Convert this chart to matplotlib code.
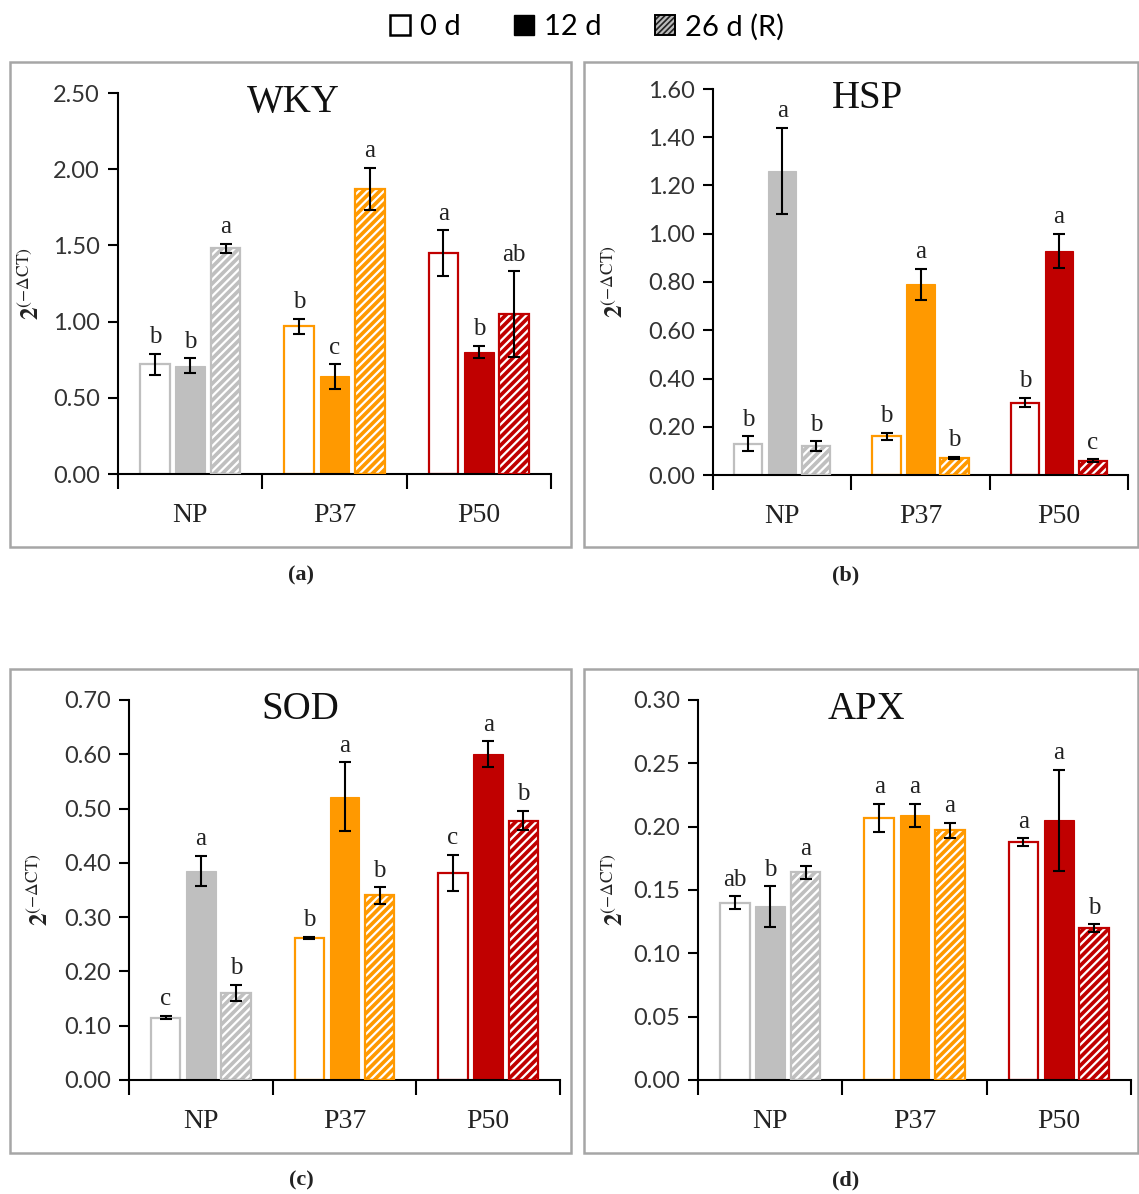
import matplotlib
matplotlib.use("Agg")
import matplotlib.pyplot as plt
from matplotlib.patches import Patch, Rectangle
from matplotlib.legend_handler import HandlerTuple
import numpy as np

plt.rcParams['hatch.linewidth'] = 1.6
plt.rcParams['mathtext.fontset'] = 'stix'

categories = ["NP", "P37", "P50"]
series_labels = ["0 d", "12 d", "26 d (R)"]
group_colors = ["#BFBFBF", "#FF9900", "#C00000"]

# values[category][series]
wky_mean = [[0.72, 0.71, 1.48], [0.97, 0.64, 1.87], [1.45, 0.80, 1.05]]
wky_err = [[0.07, 0.05, 0.03], [0.05, 0.08, 0.14], [0.15, 0.04, 0.28]]
wky_let = [["b", "b", "a"], ["b", "c", "a"], ["a", "b", "ab"]]

hsp_mean = [[0.13, 1.26, 0.12], [0.16, 0.79, 0.07], [0.30, 0.93, 0.06]]
hsp_err = [[0.03, 0.18, 0.02], [0.015, 0.065, 0.005], [0.02, 0.07, 0.005]]
hsp_let = [["b", "a", "b"], ["b", "a", "b"], ["b", "a", "c"]]

sod_mean = [[0.115, 0.385, 0.160], [0.262, 0.522, 0.340], [0.382, 0.600, 0.478]]
sod_err = [[0.003, 0.028, 0.015], [0.002, 0.063, 0.015], [0.033, 0.024, 0.018]]
sod_let = [["c", "a", "b"], ["b", "a", "b"], ["c", "a", "b"]]

apx_mean = [[0.140, 0.137, 0.164], [0.207, 0.209, 0.197], [0.188, 0.205, 0.120]]
apx_err = [[0.005, 0.016, 0.005], [0.011, 0.009, 0.006], [0.003, 0.040, 0.003]]
apx_let = [["ab", "b", "a"], ["a", "a", "a"], ["a", "a", "b"]]

W, H = 1139, 1194
fig = plt.figure(figsize=(W / 100, H / 100), dpi=100)

def px_rect(l, r, t, b):
    return [l / W, 1 - b / H, (r - l) / W, (b - t) / H]

panels = [
    dict(name="WKY", mean=wky_mean, err=wky_err, let=wky_let, ymax=2.5, step=0.5,
         pos=px_rect(118, 551, 93, 474), title_x=0.404, ylab_x=-0.20,
         box=(10, 571, 62, 547), cap="(a)", cap_xy=(301, 575)),
    dict(name="HSP", mean=hsp_mean, err=hsp_err, let=hsp_let, ymax=1.6, step=0.2,
         pos=px_rect(713, 1128, 89, 475), title_x=0.373, ylab_x=-0.235,
         box=(584, 1138, 62, 547), cap="(b)", cap_xy=(846, 575)),
    dict(name="SOD", mean=sod_mean, err=sod_err, let=sod_let, ymax=0.7, step=0.1,
         pos=px_rect(129, 560, 700, 1080), title_x=0.398, ylab_x=-0.205,
         box=(10, 571, 669, 1153), cap="(c)", cap_xy=(301, 1180)),
    dict(name="APX", mean=apx_mean, err=apx_err, let=apx_let, ymax=0.3, step=0.05,
         pos=px_rect(698, 1131, 700, 1080), title_x=0.388, ylab_x=-0.19,
         box=(584, 1138, 669, 1153), cap="(d)", cap_xy=(846, 1180)),
]

serif = "Liberation Serif"
sans = "Lato"
bw = 0.205
offs = [-0.245, 0.0, 0.245]

for p in panels:
    ax = fig.add_axes(p["pos"])
    for ci, cat in enumerate(categories):
        col = group_colors[ci]
        for si in range(3):
            x = ci + offs[si]
            m = p["mean"][ci][si]
            e = p["err"][ci][si]
            if si == 0:
                ax.bar(x, m, bw, facecolor="white", edgecolor=col, linewidth=1.6, zorder=2)
            elif si == 1:
                ax.bar(x, m, bw, facecolor=col, edgecolor=col, linewidth=0.8, zorder=2)
            else:
                ax.bar(x, m, bw, facecolor=col, edgecolor="white", hatch="////", linewidth=0, zorder=2)
                ax.bar(x, m, bw, fill=False, edgecolor=col, linewidth=1.6, zorder=3)
            ax.errorbar(x, m, yerr=e, fmt="none", ecolor="black", elinewidth=1.5,
                        capsize=4.5, capthick=1.5, zorder=4)
            ax.annotate(p["let"][ci][si], (x, m + e), xytext=(0, 4), textcoords="offset points",
                        ha="center", va="bottom", fontsize=18, family=serif, color="#222222")
    ax.set_xlim(-0.5, 2.5)
    ax.set_ylim(0, p["ymax"])
    yt = np.arange(0, p["ymax"] + p["step"] / 2, p["step"])
    ax.set_yticks(yt)
    ax.set_yticklabels([f"{v:.2f}" for v in yt], fontsize=17, family=sans, color="#333333")
    ax.set_xticks([-0.5, 0.5, 1.5, 2.5])
    ax.set_xticklabels([])
    ax.set_xticks([0, 1, 2], minor=True)
    ax.set_xticklabels(categories, minor=True, fontsize=20, family=serif, color="#222222")
    ax.tick_params(axis="x", which="major", length=11, width=1.5, direction="out")
    ax.tick_params(axis="x", which="minor", length=0, pad=21)
    ax.tick_params(axis="y", length=7, width=1.5, direction="out", pad=6)
    for s in ["top", "right"]:
        ax.spines[s].set_visible(False)
    for s in ["left", "bottom"]:
        ax.spines[s].set_linewidth(1.5)
    ax.set_facecolor("none")
    ax.text(p["title_x"], 0.975, p["name"], transform=ax.transAxes, ha="center", va="center",
            fontsize=28, family=serif, color="#111111")
    ax.text(p["ylab_x"], 0.5, r"$\mathbf{2}^{\mathrm{(-\Delta CT)}}$", transform=ax.transAxes,
            rotation=90, ha="center", va="center", fontsize=18, color="#222222")
    l, r, t, b = p["box"]
    fig.add_artist(Rectangle((l / W, 1 - b / H), (r - l) / W, (b - t) / H, transform=fig.transFigure,
                             fill=False, edgecolor="#A6A6A6", linewidth=1.8))
    cx, cy = p["cap_xy"]
    fig.text(cx / W, 1 - cy / H, p["cap"], ha="center", va="center", fontsize=16,
             family=serif, fontweight="bold", color="#222222")

h0 = Patch(facecolor="white", edgecolor="black", linewidth=1.8)
h1 = Patch(facecolor="black", edgecolor="black", linewidth=1.0)
h2a = Patch(facecolor="#222222", edgecolor="#BBBBBB", hatch="//////", linewidth=0)
h2b = Patch(fill=False, edgecolor="black", linewidth=1.4)
leg = fig.legend(handles=[h0, h1, (h2a, h2b)], labels=series_labels, loc="center",
                 bbox_to_anchor=(587 / W, 1 - 27 / H), ncol=3,
                 handler_map={tuple: HandlerTuple(ndivide=1)},
                 frameon=False, handlelength=0.7, handleheight=0.7, handletextpad=0.35,
                 columnspacing=1.8, prop={"family": sans, "size": 21})

fig.savefig("out.png", dpi=100)
